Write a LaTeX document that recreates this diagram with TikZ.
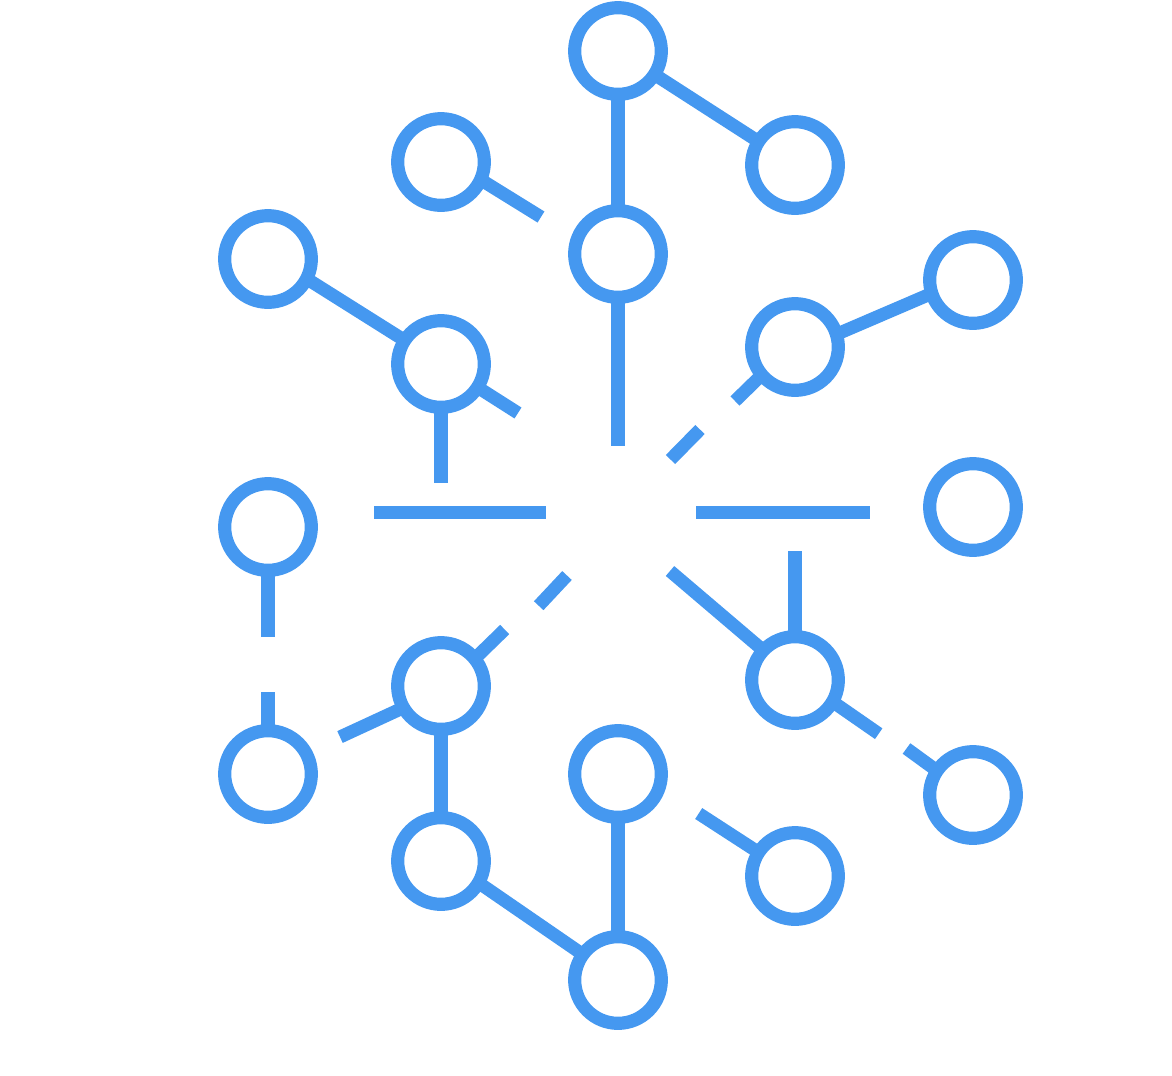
\documentclass[tikz,border=0pt]{standalone}
\usepackage{xcolor}
\usepackage{tikz}
\definecolor{netblue}{RGB}{69,152,240}

\begin{document}
\begin{tikzpicture}
[
x=0.01cm, y=-0.01cm,
blueball/.style={circle, draw=netblue, line width=3.75pt, minimum size=0.866cm, inner sep=0pt, outer sep=0pt},
link/.style={draw=netblue, line width=3.7pt}
]
\useasboundingbox (0,0) rectangle (1172,1075);
%top cluster
\node at (618,51) [blueball] (b1) {};
\node at (795,165) [blueball] (b2) {};
\node at (441,162) [blueball] (b3) {};
\node at (618,254) [blueball] (b4) {};
\node at (268,259) [blueball] (b5) {};
\node at (441,364) [blueball] (b6) {};
\node at (795,347) [blueball] (b7) {};
\node at (973,280) [blueball] (b8) {};
%middle row
\node at (268,527) [blueball] (b9) {};
\node at (973,507) [blueball] (b10) {};
\node at (441,686) [blueball] (b11) {};
\node at (795,680) [blueball] (b12) {};
%bottom cluster
\node at (268,774) [blueball] (b13) {};
\node at (618,774) [blueball] (b14) {};
\node at (973,795) [blueball] (b15) {};
\node at (441,861) [blueball] (b16) {};
\node at (795,876) [blueball] (b17) {};
\node at (618,980) [blueball] (b18) {};

%free ends
\coordinate (e3) at (541,217);
\coordinate (e4) at (618,446);
\coordinate (e6a) at (518,413);
\coordinate (e6b) at (441,483);
\coordinate (h1) at (374,512);
\coordinate (h2) at (546,512);
\coordinate (h3) at (696,512);
\coordinate (h4) at (870,512);
\coordinate (e7) at (735,401);
\coordinate (d1) at (670.5,459.5);
\coordinate (d2) at (700,429.5);
\coordinate (e9) at (268,637);
\coordinate (e13) at (268,692);
\coordinate (d3) at (567,575.5);
\coordinate (d4) at (538.7,605.7);
\coordinate (e11a) at (504.7,629.5);
\coordinate (e11b) at (340,737);
\coordinate (e12a) at (670,571);
\coordinate (e12b) at (795,551);
\coordinate (e12c) at (878.7,733.7);
\coordinate (e15) at (906.5,748.5);
\coordinate (e17) at (698.7,813.5);

%links
\draw[link] (b1) -- (b4);
\draw[link] (b1) -- (b2);
\draw[link] (b3.-24) -- (e3);
\draw[link] (b4) -- (e4);
\draw[link] (b5.-27.5) -- (b6.147);
\draw[link] (b6) -- (e6a);
\draw[link] (b6) -- (e6b);
\draw[link] (h1) -- (h2);
\draw[link] (h3) -- (h4);
\draw[link] (b7.220) -- (e7);
\draw[link] (d1) -- (d2);
\draw[link] (b7.17.5) -- (b8.198);
\draw[link] (b9) -- (e9);
\draw[link] (e13) -- (b13);
\draw[link] (d3) -- (d4);
\draw[link] (e11a) -- (b11.39);
\draw[link] (b11.210) -- (e11b);
\draw[link] (b11) -- (b16);
\draw[link] (e12a) -- (b12.137);
\draw[link] (e12b) -- (b12);
\draw[link] (b12.-30) -- (e12c);
\draw[link] (e15) -- (b15.146);
\draw[link] (b14) -- (b18);
\draw[link] (e17) -- (b17.147);
\draw[link] (b16.-30) -- (b18.144);

\end{tikzpicture}
\end{document}
